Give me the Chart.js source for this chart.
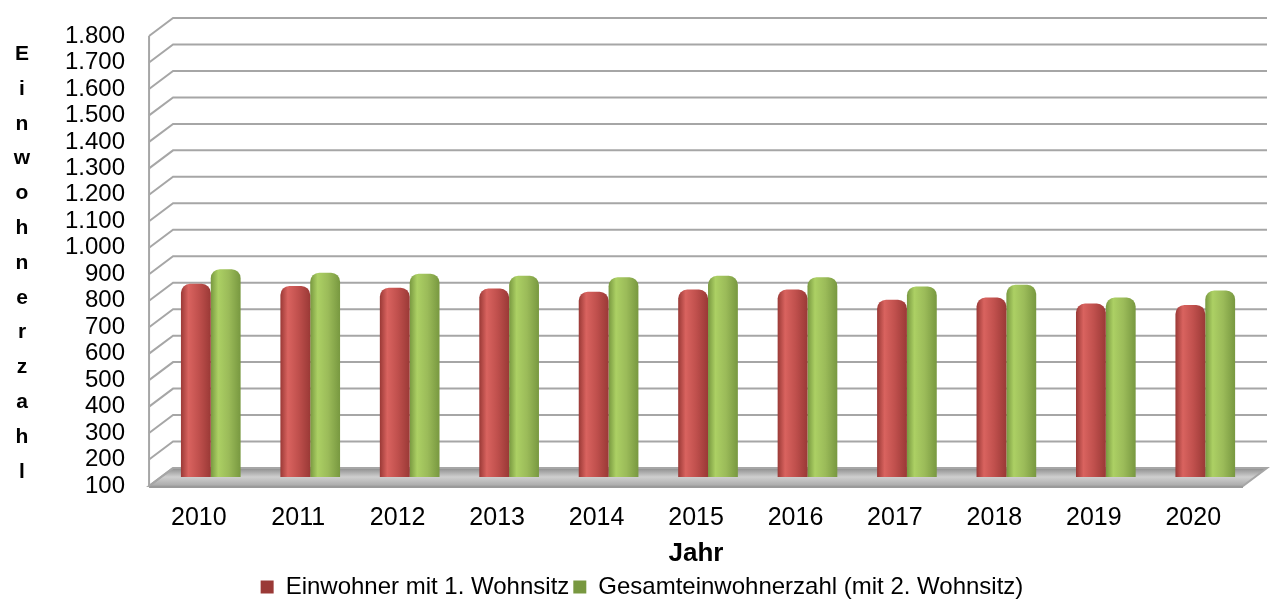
<!DOCTYPE html>
<html lang="de">
<head>
<meta charset="utf-8">
<title>Einwohnerzahl</title>
<script src="https://cdn.jsdelivr.net/npm/chart.js@4.4.1/dist/chart.umd.min.js"></script>
<style>
  html, body { margin: 0; padding: 0; background: #fff; }
  #wrap { width: 1272px; height: 603px; }
</style>
</head>
<body>
<div id="wrap"><canvas id="chart"></canvas></div>
<script>
const years = ["2010", "2011", "2012", "2013", "2014", "2015", "2016", "2017", "2018", "2019", "2020"];
const mainResidence = [830, 822, 815, 812, 800, 808, 808, 770, 778, 755, 750];
const totalResidents = [885, 872, 868, 860, 855, 860, 855, 820, 826, 778, 805];
const seriesNames = ["Einwohner mit 1. Wohnsitz", "Gesamteinwohnerzahl (mit 2. Wohnsitz)"];
const yMin = 100;
const yMax = 1800;
const yStep = 100;
const yTitle = "Einwohnerzahl";
const xTitle = "Jahr";

// depth of the fake 3d box
const depthX = 24;
const depthY = 18;
const FONT = "'Liberation Sans', Arial, sans-serif";

function germanNumber(v) {
  return String(v).replace(/\B(?=(\d{3})+(?!\d))/g, ".");
}

function barFill(base, light, dark) {
  return (ctx) => {
    const el = ctx.element;
    if (!el || !isFinite(el.x) || !isFinite(el.width)) return base;
    const g = ctx.chart.ctx.createLinearGradient(el.x - el.width / 2, 0, el.x + el.width / 2, 0);
    g.addColorStop(0, dark);
    g.addColorStop(0.25, light);
    g.addColorStop(0.6, base);
    g.addColorStop(1, dark);
    return g;
  };
}

const boxPlugin = {
  id: "box3d",
  beforeDatasetsDraw(chart) {
    const { ctx, chartArea } = chart;
    const y = chart.scales.y;
    const left = chartArea.left, right = chartArea.right, bottom = chartArea.bottom;

    ctx.save();
    // floor
    const fg = ctx.createLinearGradient(0, bottom - depthY, 0, bottom);
    fg.addColorStop(0, "#8c8c8c");
    fg.addColorStop(0.5, "#cfcfcf");
    fg.addColorStop(1, "#a9a9a9");
    ctx.fillStyle = fg;
    ctx.beginPath();
    ctx.moveTo(left, bottom);
    ctx.lineTo(right, bottom);
    ctx.lineTo(right + depthX, bottom - depthY);
    ctx.lineTo(left + depthX, bottom - depthY);
    ctx.closePath();
    ctx.fill();
    ctx.strokeStyle = "#a6a6a6";
    ctx.lineWidth = 2;
    ctx.stroke();
    ctx.beginPath();
    ctx.moveTo(left, bottom + 1);
    ctx.lineTo(right, bottom + 1);
    ctx.strokeStyle = "#9a9a9a";
    ctx.stroke();

    // walls
    ctx.strokeStyle = "#a6a6a6";
    ctx.lineWidth = 2;
    for (let v = yMin; v <= yMax; v += yStep) {
      const py = y.getPixelForValue(v);
      ctx.beginPath();
      ctx.moveTo(left, py);
      ctx.lineTo(left + depthX, py - depthY);
      if (v > yMin) ctx.lineTo(right + depthX, py - depthY);
      ctx.stroke();
    }
    ctx.beginPath();
    ctx.moveTo(left, y.getPixelForValue(yMax));
    ctx.lineTo(left, bottom);
    ctx.stroke();
    ctx.restore();

    // bars stand in the middle of the depth
    ctx.save();
    ctx.translate(depthX / 2, -depthY / 2);
  },
  afterDatasetsDraw(chart) {
    chart.ctx.restore();
  },
  afterDraw(chart) {
    const { ctx, chartArea } = chart;
    ctx.save();
    ctx.font = "bold 21px " + FONT;
    ctx.fillStyle = "#000";
    ctx.textAlign = "center";
    ctx.textBaseline = "middle";
    const gap = 34.8;
    const mid = (chartArea.top + chartArea.bottom) / 2 + 2;
    const start = mid - gap * (yTitle.length - 1) / 2;
    for (let i = 0; i < yTitle.length; i++) {
      ctx.fillText(yTitle[i], 22, start + i * gap);
    }
    ctx.restore();
  }
};

const chart = new Chart(document.getElementById("chart"), {
  type: "bar",
  data: {
    labels: years,
    datasets: [
      {
        label: seriesNames[0],
        data: mainResidence,
        base: yMin,
        backgroundColor: barFill("#c0504d", "#d9635f", "#9a3936"),
        borderRadius: { topLeft: 9, topRight: 9 },
        borderSkipped: "bottom",
        clip: false,
      },
      {
        label: seriesNames[1],
        data: totalResidents,
        base: yMin,
        backgroundColor: barFill("#9bbb59", "#acd064", "#789840"),
        borderRadius: { topLeft: 9, topRight: 9 },
        borderSkipped: "bottom",
        clip: false,
      },
    ],
  },
  options: {
    responsive: true,
    maintainAspectRatio: false,
    animation: false,
    layout: { padding: { top: 4, left: 41, right: 29, bottom: -6 } },
    datasets: {
      bar: { categoryPercentage: 0.6, barPercentage: 1.0 },
    },
    scales: {
      x: {
        grid: { display: false, drawTicks: false },
        border: { display: false },
        ticks: { color: "#000", font: { family: FONT, size: 25, lineHeight: 1 }, padding: 20, maxRotation: 0, autoSkip: false },
        title: { display: true, text: xTitle, color: "#000", font: { family: FONT, size: 26, weight: "bold", lineHeight: 1 }, padding: { top: -10, bottom: 4 } },
      },
      y: {
        min: yMin,
        max: yMax,
        grid: { display: false, drawTicks: false },
        border: { display: false },
        ticks: { stepSize: yStep, autoSkip: false, color: "#000", font: { family: FONT, size: 24, lineHeight: 1 }, padding: 24, callback: (v) => germanNumber(v) },
      },
    },
    plugins: {
      legend: {
        position: "bottom",
        labels: { color: "#000", font: { family: FONT, size: 24 }, boxWidth: 13, boxHeight: 13, padding: 4 },
      },
      tooltip: { enabled: false },
    },
  },
  plugins: [boxPlugin],
});
chart.update("none");
</script>
</body>
</html>
